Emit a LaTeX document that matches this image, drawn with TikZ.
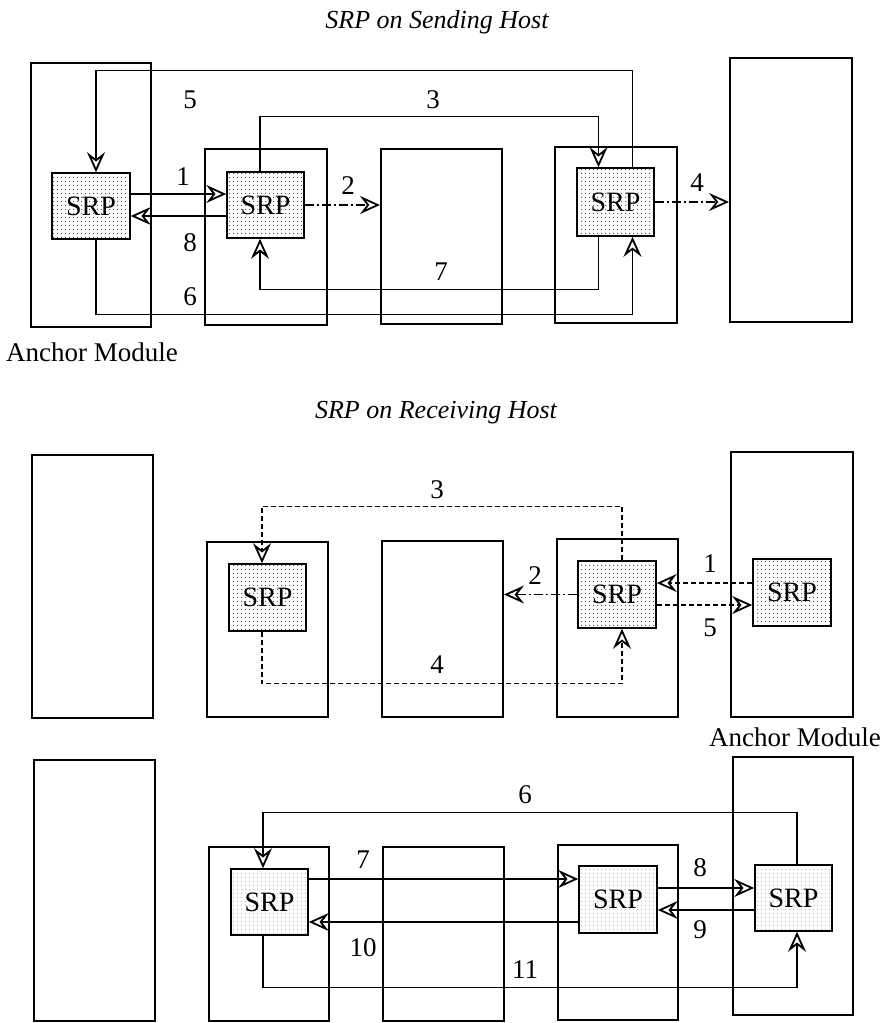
\documentclass[tikz,border=0pt]{standalone}
\usepackage{fontspec}
\setmainfont{Liberation Serif}
\usetikzlibrary{arrows.meta,patterns.meta}

\tikzdeclarepattern{
  name=srpdots,
  type=uncolored,
  bounding box={(0pt,0pt) and (4pt,4pt)},
  tile size={(4pt,4pt)},
  code={\pgfpathcircle{\pgfpoint{2pt}{2pt}}{0.7pt}\pgfusepath{fill}}
}

\tikzset{
  modbox/.style={draw, line width=2pt, inner sep=0pt, rectangle},
  srpbox/.style={draw, line width=1.6pt, inner sep=0pt, rectangle,
    pattern=srpdots, pattern color=black!75, font=\fontsize{28}{30}\selectfont},
  srplight/.style={srpbox, pattern color=black!30},
  conn/.style={line width=1.2pt},
  arr/.style={conn, -{Stealth[open, length=20pt, width=18pt, inset=7pt, line width=1.8pt]}},
  dashdot/.style={dash pattern=on 9pt off 3pt on 2pt off 3pt},
  shortdash/.style={dash pattern=on 5pt off 3pt},
  lbl/.style={font=\fontsize{27}{30}\selectfont, inner sep=0pt},
  ttl/.style={font=\fontsize{26}{30}\selectfont\itshape, inner sep=0pt}
}

\begin{document}
\begin{tikzpicture}[x=1pt, y=-1pt]
\useasboundingbox (0,0) rectangle (886,1023);
\clip (0,0) rectangle (886,1023);

% ---------- Sending host ----------
\node[ttl] (t1) at (437,22) {SRP on Sending Host};
\node[modbox, minimum width=120pt, minimum height=264pt] (anchorT) at (91,195) {};
\node[modbox, minimum width=122pt, minimum height=176pt] (boxBT) at (266,237) {};
\node[modbox, minimum width=121pt, minimum height=175pt] (boxCT) at (441.5,236.5) {};
\node[modbox, minimum width=122pt, minimum height=176pt] (boxDT) at (616,235) {};
\node[modbox, minimum width=122pt, minimum height=264pt] (boxET) at (791,190) {};
\node[lbl] (amT) at (92,352) {Anchor Module};

\node[srpbox, minimum width=78pt, minimum height=66pt] (srpA) at (91,206) {SRP};
\node[srpbox, minimum width=77pt, minimum height=66pt] (srpB) at (265.5,205) {SRP};
\node[srpbox, minimum width=77pt, minimum height=68pt] (srpD) at (615.5,202) {SRP};

% connectors
\draw[arr] ([xshift=17pt]srpD.north) -- ++(0,-97) -| ([xshift=5pt]srpA.north);
\draw[arr] ([xshift=-5.5pt]srpB.north) -- ++(0,-55) -| ([xshift=-17pt]srpD.north);
\draw[arr] ([yshift=12pt]srpA.east) -- ([yshift=12pt]srpA.east -| srpB.west);
\draw[arr] ([yshift=-10pt]srpA.east -| srpB.west) -- ([yshift=-10pt]srpA.east);
\draw[arr, dashdot] (srpB.east) -- (srpB.east -| boxCT.west);
\draw[arr, dashdot] (srpD.east) -- (srpD.east -| boxET.west);
\draw[arr] ([xshift=-17pt]srpD.south) -- ++(0,53) -| ([xshift=-5.5pt]srpB.south);
\draw[arr] ([xshift=5pt]srpA.south) -- ++(0,75) -| ([xshift=17pt]srpD.south);

\node[lbl] (l5T) at (190,100) {5};
\node[lbl] (l3T) at (433,100) {3};
\node[lbl] (l1T) at (183,177) {1};
\node[lbl] (l8T) at (190,243) {8};
\node[lbl] (l6T) at (190,297) {6};
\node[lbl] (l2T) at (348,186) {2};
\node[lbl] (l4T) at (697,183) {4};
\node[lbl] (l7T) at (441,272) {7};

% ---------- Receiving host (upper) ----------
\node[ttl] (t2) at (436,413) {SRP on Receiving Host};
\node[modbox, minimum width=121pt, minimum height=263pt] (boxAM) at (92.5,586.5) {};
\node[modbox, minimum width=121pt, minimum height=175pt] (boxBM) at (267.5,629.5) {};
\node[modbox, minimum width=121pt, minimum height=176pt] (boxCM) at (442.5,629) {};
\node[modbox, minimum width=121pt, minimum height=178pt] (boxDM) at (617.5,628) {};
\node[modbox, minimum width=122pt, minimum height=265pt] (boxEM) at (792,584.5) {};
\node[lbl] (amM) at (795,737) {Anchor Module};

\node[srpbox, minimum width=77pt, minimum height=67pt] (srpBM) at (267.5,597.5) {SRP};
\node[srpbox, minimum width=78pt, minimum height=67pt] (srpDM) at (617,594.5) {SRP};
\node[srpbox, minimum width=78pt, minimum height=67pt] (srpEM) at (792,592.5) {SRP};

\draw[arr, shortdash] ([xshift=5pt]srpDM.north) -- ++(0,-54) -| ([xshift=-5.5pt]srpBM.north);
\draw[arr, shortdash] ([xshift=-5.5pt]srpBM.south) -- ++(0,52) -| ([xshift=5pt]srpDM.south);
\draw[arr, dashdot] (srpDM.west) -- (srpDM.west -| boxCM.east);
\draw[arr, shortdash] ([yshift=9.5pt]srpEM.west) -- ([yshift=9.5pt]srpEM.west -| srpDM.east);
\draw[arr, shortdash] ([yshift=-12.5pt]srpEM.west -| srpDM.east) -- ([yshift=-12.5pt]srpEM.west);

\node[lbl] (l3M) at (437,490) {3};
\node[lbl] (l4M) at (437,665) {4};
\node[lbl] (l2M) at (535,576) {2};
\node[lbl] (l1M) at (710,564) {1};
\node[lbl] (l5M) at (710,628) {5};

% ---------- Receiving host (lower) ----------
\node[modbox, minimum width=121pt, minimum height=261pt] (boxAL) at (94.5,890.5) {};
\node[modbox, minimum width=120pt, minimum height=174pt] (boxBL) at (269,934) {};
\node[modbox, minimum width=121pt, minimum height=174pt] (boxCL) at (443.5,934) {};
\node[modbox, minimum width=120pt, minimum height=175pt] (boxDL) at (618,932.5) {};
\node[modbox, minimum width=120pt, minimum height=258pt] (boxEL) at (793,886) {};

\node[srplight, minimum width=77pt, minimum height=66pt] (srpBL) at (269.5,902) {SRP};
\node[srplight, minimum width=78pt, minimum height=67pt] (srpDL) at (618,899.5) {SRP};
\node[srplight, minimum width=77pt, minimum height=66pt] (srpEL) at (793.5,898) {SRP};

\draw[arr] ([xshift=3.5pt]srpEL.north) -- ++(0,-52) -| ([xshift=-6.5pt]srpBL.north);
\draw[arr] ([xshift=-6.5pt]srpBL.south) -- ++(0,52) -| ([xshift=3.5pt]srpEL.south);
\draw[arr] ([yshift=23pt]srpBL.east) -- ([yshift=23pt]srpBL.east -| srpDL.west);
\draw[arr] ([yshift=-20pt]srpBL.east -| srpDL.west) -- ([yshift=-20pt]srpBL.east);
\draw[arr] ([yshift=11.5pt]srpDL.east) -- ([yshift=11.5pt]srpDL.east -| srpEL.west);
\draw[arr] ([yshift=-10.5pt]srpDL.east -| srpEL.west) -- ([yshift=-10.5pt]srpDL.east);

\node[lbl] (l6L) at (525,795) {6};
\node[lbl] (l7L) at (363,860) {7};
\node[lbl] (l10L) at (363,948) {10};
\node[lbl] (l11L) at (525,970) {11};
\node[lbl] (l8L) at (700,868) {8};
\node[lbl] (l9L) at (700,930) {9};
\end{tikzpicture}
\end{document}
